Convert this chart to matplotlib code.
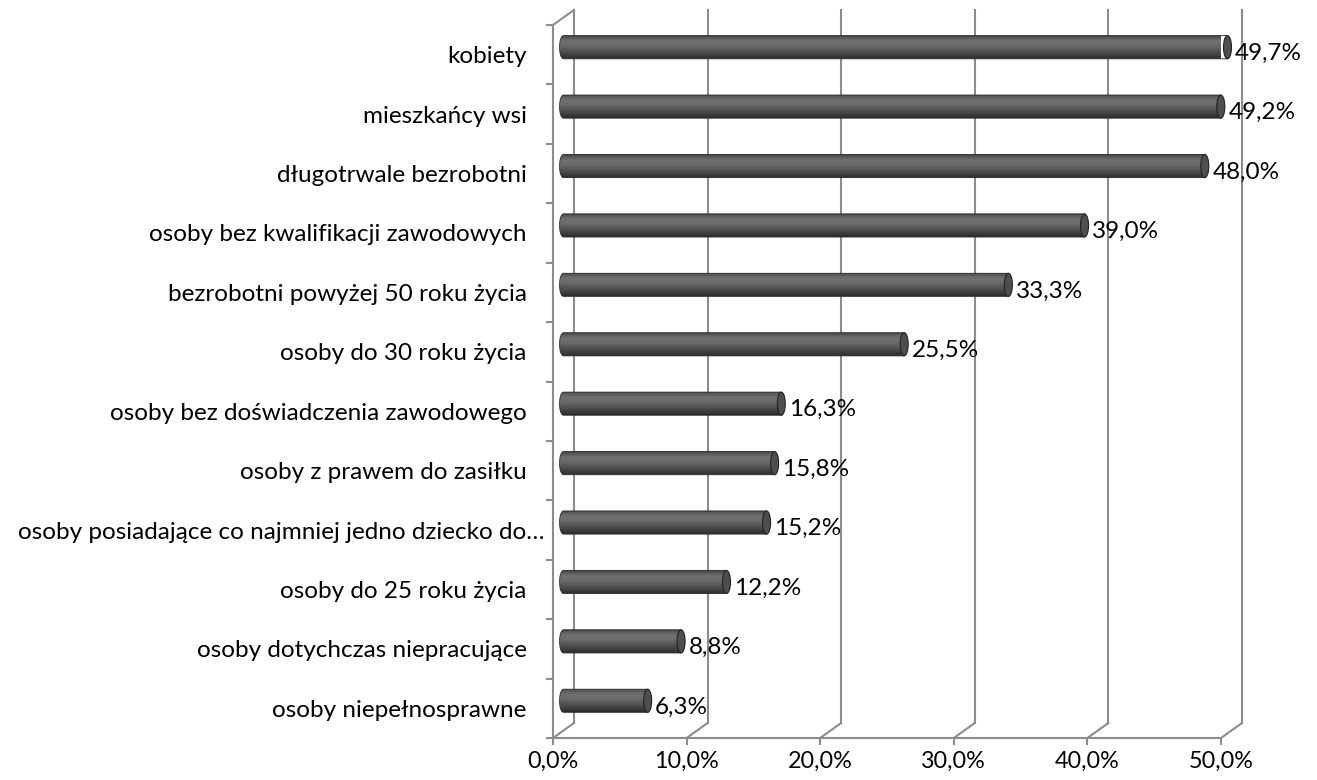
import numpy as np
import matplotlib.pyplot as plt
from matplotlib.path import Path
from matplotlib.patches import PathPatch, Ellipse
from matplotlib.colors import LinearSegmentedColormap
from matplotlib.transforms import ScaledTranslation

plt.rcParams['font.family'] = ['Lato', 'DejaVu Sans']

# data, bottom to top
categories = ['osoby niepełnosprawne', 'osoby dotychczas niepracujące',
              'osoby do 25 roku życia',
              'osoby posiadające co najmniej jedno dziecko do…',
              'osoby z prawem do zasiłku', 'osoby bez doświadczenia zawodowego',
              'osoby do 30 roku życia', 'bezrobotni powyżej 50 roku życia',
              'osoby bez kwalifikacji zawodowych', 'długotrwale bezrobotni',
              'mieszkańcy wsi', 'kobiety']
values = [6.3, 8.8, 12.2, 15.2, 15.8, 16.3, 25.5, 33.3, 39.0, 48.0, 49.2, 49.7]
x_ticks = [0, 10, 20, 30, 40, 50]
x_tick_labels = ['0,0%', '10,0%', '20,0%', '30,0%', '40,0%', '50,0%']

grid_c = '#8c8c8c'
fs_cat = 17.5
fs_num = 17.5
fs_tick = 16.8

fig = plt.figure(figsize=(13.17, 7.8), dpi=100)
ax = fig.add_axes([553/1317, 1 - 738/780, 668/1317, 713/780])
ax.set_xlim(0, 50)
ax.set_ylim(-0.5, len(categories) - 0.5)
ytop = len(categories) - 0.5

# depth offset (21 px right, 15 px up) in data units
inv = ax.transData.inverted()
p0 = inv.transform((0, 0))
p1 = inv.transform((21, 15))
ox, oy = p1 - p0

# back wall and floor
for t in x_ticks:
    ax.plot([t + ox, t + ox], [-0.5 + oy, ytop + oy], color=grid_c, lw=1.5,
            clip_on=False, zorder=1)
    ax.plot([t, t + ox], [-0.5, -0.5 + oy], color=grid_c, lw=1.5,
            clip_on=False, zorder=1)
ax.plot([0, ox], [ytop, ytop + oy], color=grid_c, lw=1.5, clip_on=False, zorder=1)

# cylinders
cmap = LinearSegmentedColormap.from_list('cyl', [
    (0.0, '#2c2c2c'), (0.25, '#4a4a4a'), (0.55, '#6a6a6a'),
    (0.75, '#707070'), (0.92, '#555555'), (1.0, '#333333')])
grad = np.linspace(0, 1, 64).reshape(-1, 1)
h = 0.39
e = 4 * (50 / 668)
for i, v in enumerate(values):
    yc = i + oy / 2
    x0 = ox / 2
    ang = np.linspace(np.pi / 2, 3 * np.pi / 2, 30)
    verts = [(x0 + e * np.cos(a), yc + h / 2 * np.sin(a)) for a in ang]
    verts += [(x0 + v, yc - h / 2), (x0 + v, yc + h / 2), verts[0]]
    codes = [Path.MOVETO] + [Path.LINETO] * (len(verts) - 2) + [Path.CLOSEPOLY]
    body = PathPatch(Path(verts, codes), facecolor='none', edgecolor='#2a2a2a',
                     lw=0.6, zorder=3, clip_on=False)
    ax.add_patch(body)
    im = ax.imshow(grad, cmap=cmap, origin='lower', aspect='auto',
                   extent=(x0 - e, x0 + v, yc - h / 2, yc + h / 2), zorder=2)
    im.set_clip_path(body)
    cap = Ellipse((x0 + v, yc), 2 * e, h, facecolor='#4e4e4e',
                  edgecolor='#222222', lw=0.8, zorder=4, clip_on=False)
    ax.add_patch(cap)
    ax.annotate(f'{v:.1f}'.replace('.', ',') + '%', (v, i), xytext=(13, 1),
                textcoords='offset points', va='center', ha='left', fontsize=fs_num,
                zorder=5)

ax.set_xlim(0, 50)
ax.set_ylim(-0.5, ytop)

for s in ['top', 'right']:
    ax.spines[s].set_visible(False)
for s in ['left', 'bottom']:
    ax.spines[s].set_color(grid_c)
    ax.spines[s].set_linewidth(1.5)

ax.set_xticks(x_ticks)
ax.set_xticklabels(x_tick_labels, fontsize=fs_tick)
ax.set_yticks(np.arange(-0.5, ytop + 0.1, 1))
ax.set_yticklabels([])
ax.set_yticks(range(len(categories)), minor=True)
ax.set_yticklabels(categories, minor=True, fontsize=fs_cat)
ax.tick_params(axis='both', which='major', color=grid_c, width=1.5, length=5)
ax.tick_params(axis='x', pad=4)
ax.tick_params(axis='y', which='minor', length=0, pad=19)
ax.patch.set_visible(False)

# the truncated label sits closer to the axis
for lbl in ax.get_yticklabels(minor=True):
    if lbl.get_text().endswith('…'):
        lbl.set_transform(lbl.get_transform() +
                          ScaledTranslation(0.18, 0, fig.dpi_scale_trans))

fig.savefig('out.png', dpi=100)
